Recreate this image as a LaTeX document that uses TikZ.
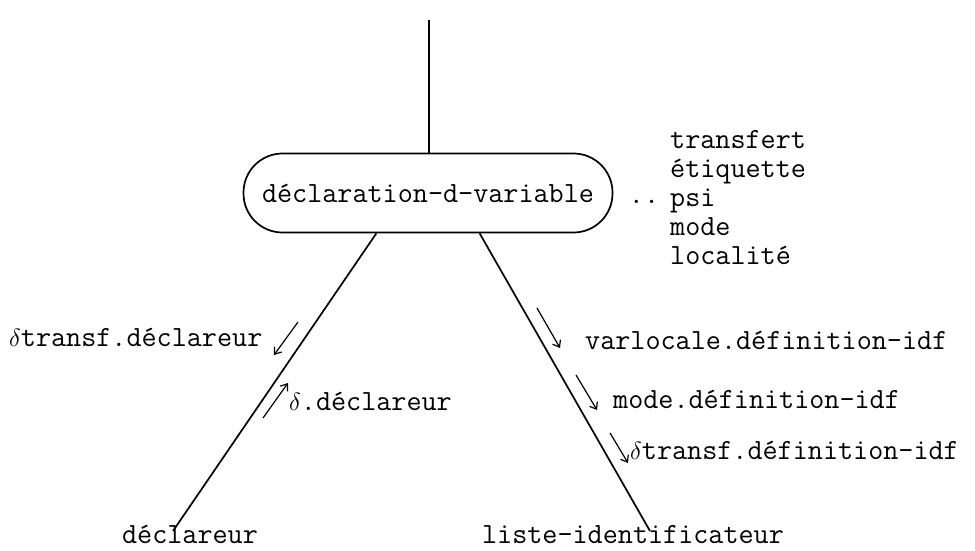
\documentclass[tikz,border=0pt]{standalone}
\usepackage{tikz}
\usetikzlibrary{calc,positioning,arrows.meta}

\tikzset{
  box/.style={draw, line width=1.7pt, rounded corners=39pt, minimum width=369pt,
    minimum height=79pt, inner sep=0pt, font=\ttfamily\fontsize{29.3}{29}\selectfont},
  lbl/.style={inner sep=0pt, text height=18pt, text depth=5pt, font=\ttfamily\fontsize{29.3}{29}\selectfont},
  flow/.style={->, line width=1.2pt},
}

\begin{document}
\begin{tikzpicture}[x=1pt,y=-1pt,>={Straight Barb[length=6pt,width=9pt]}]
  \useasboundingbox (0,0) rectangle (975,550);

  % node and tree branches
  \node[box] (var) at (428,193) {déclaration-d-variable};
  \coordinate (up) at (429,20);
  \coordinate (lend) at (173,531);
  \coordinate (rend) at (650,531);
  \draw[line width=1.7pt] (up) -- (var.north -| up);
  \draw[line width=1.7pt] (var.218) -- (lend);
  \draw[line width=1.7pt] (var.322) -- (rend);

  % sons
  \node[lbl] (declareur) at (190,537) {déclareur};
  \node[lbl] (liste) at (633,537) {liste-identificateur};

  % attributes of the node
  \node[inner sep=0pt, font=\ttfamily\fontsize{29.3}{29}\selectfont] (dots) at (644,202) {..};
  \node[anchor=west, align=left, inner sep=0pt, font=\ttfamily\fontsize{29.3}{29}\selectfont] (attr) at (670,198)
    {transfert\\étiquette\\psi\\mode\\localité};

  % left branch
  \node[lbl, anchor=west] (dtd) at (9,340) {$\delta$transf.déclareur};
  \node[lbl, anchor=west] (dd) at (289,404) {$\delta$.déclareur};
  \draw[flow] (298,322) -- (274,355);
  \draw[flow] (263,418) -- (288,383);

  % right branch
  \node[lbl, anchor=west] (vd) at (585,343) {varlocale.définition-idf};
  \node[lbl, anchor=west] (md) at (613,402) {mode.définition-idf};
  \node[lbl, anchor=west] (td) at (630,453) {$\delta$transf.définition-idf};
  \draw[flow] (537,308) -- (560,348);
  \draw[flow] (576,375) -- (597,410);
  \draw[flow] (610,433) -- (628,463);

\end{tikzpicture}
\end{document}
